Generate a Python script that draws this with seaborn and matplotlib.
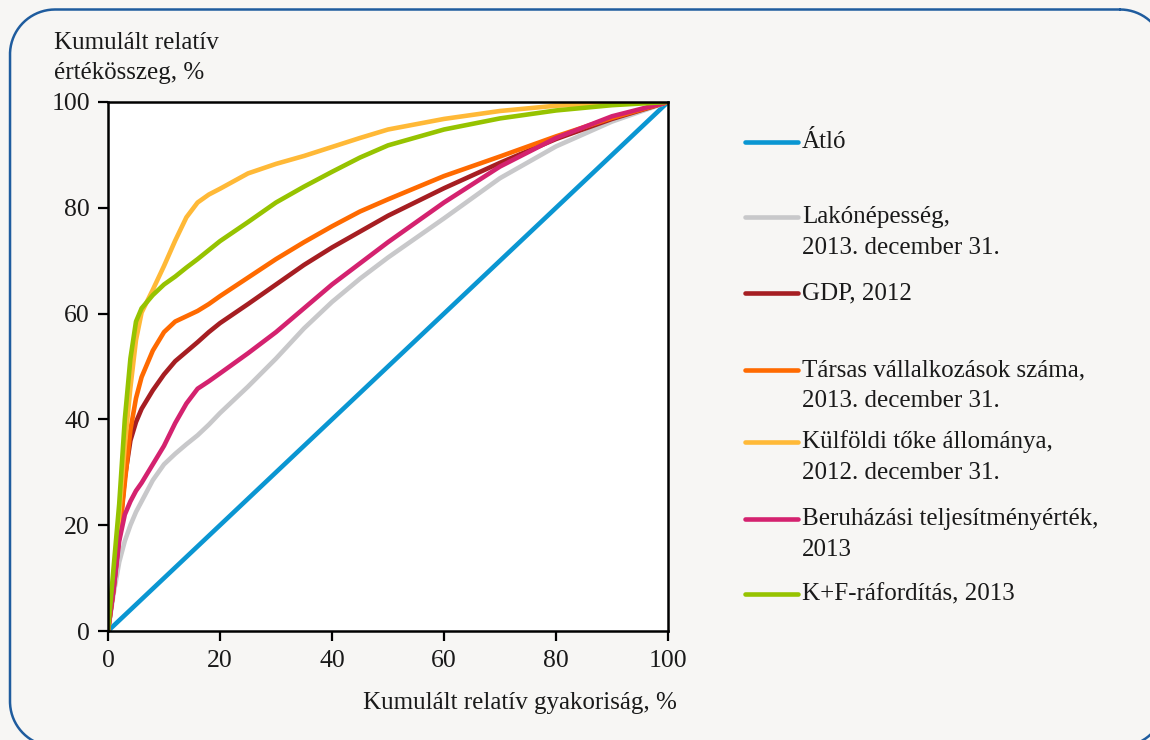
import matplotlib.pyplot as plt
import numpy as np
import pandas as pd
import seaborn as sns
from matplotlib.lines import Line2D

# === Data ===
x_pct = [0, 1, 2, 3, 4, 5, 6, 8, 10, 12, 14, 16, 18, 20, 25, 30, 35, 40, 45, 50, 60, 70, 80, 90, 100]

diag = [0, 1, 2, 3, 4, 5, 6, 8, 10, 12, 14, 16, 18, 20, 25, 30, 35, 40, 45, 50, 60, 70, 80, 90, 100]
lakonepesseg = [0, 7, 13, 17, 20, 22.5, 24.5, 28.5, 31.5, 33.5, 35.3, 37, 39, 41.2, 46.2, 51.5, 57.2, 62.2, 66.6, 70.6, 78, 85.6, 91.6, 96.3, 100]
gdp = [0, 8, 18, 29, 36, 39.5, 42, 45.5, 48.5, 51, 52.8, 54.6, 56.5, 58.2, 61.8, 65.5, 69.2, 72.5, 75.5, 78.5, 83.7, 88.5, 93, 96.8, 100]
tarsas = [0, 8, 18, 28, 38, 44, 48, 53, 56.5, 58.5, 59.5, 60.5, 61.8, 63.3, 66.8, 70.3, 73.5, 76.5, 79.3, 81.6, 86, 89.7, 93.5, 97, 100]
kulfoldi = [0, 10, 22, 35, 46, 55, 60.2, 64.5, 69, 73.8, 78.2, 81, 82.5, 83.6, 86.5, 88.3, 89.8, 91.5, 93.2, 94.8, 96.8, 98.3, 99.3, 99.8, 100]
beruhazas = [0, 8, 17, 22, 24.5, 26.5, 28, 31.5, 35, 39.3, 43, 45.8, 47.2, 48.7, 52.5, 56.5, 61, 65.5, 69.5, 73.5, 81, 87.8, 93.2, 97.3, 100]
kf = [0, 12, 24, 40, 51.5, 58.5, 61, 63.5, 65.5, 67, 68.7, 70.3, 72, 73.7, 77.3, 81, 84, 86.8, 89.5, 91.8, 94.8, 96.9, 98.4, 99.4, 100]

series_names = ["Átló", "Lakónépesség,\n2013. december 31.", "GDP, 2012",
                "Társas vállalkozások száma,\n2013. december 31.",
                "Külföldi tőke állománya,\n2012. december 31.",
                "Beruházási teljesítményérték,\n2013", "K+F-ráfordítás, 2013"]
series_values = [diag, lakonepesseg, gdp, tarsas, kulfoldi, beruhazas, kf]
colors = ["#0a96d2", "#c8c8ca", "#a61e22", "#ff6a00", "#ffb937", "#d4226f", "#96c300"]

# long format table for seaborn
df = pd.concat([
    pd.DataFrame({"x": x_pct, "y": vals, "series": name})
    for name, vals in zip(series_names, series_values)
], ignore_index=True)

# === Style ===
sns.set_theme(style="white")
plt.rcParams['font.family'] = ['Liberation Serif', 'DejaVu Serif']
plt.rcParams['text.color'] = '#1a1a1a'
bg = "#f7f6f4"
fs = 18
W, H = 1150, 740

fig = plt.figure(figsize=(11.5, 7.4), dpi=100, facecolor=bg)

# full-figure helper axes in pixel units, used for the rounded frame
frame_ax = fig.add_axes([0, 0, 1, 1])
frame_ax.set_xlim(0, W)
frame_ax.set_ylim(H, 0)
frame_ax.axis("off")


def rounded_rect(x0, y0, x1, y1, r, n=40):
    # polyline outline (y grows downwards)
    pts = []
    corners = [(x1 - r, y0 + r, -90, 0), (x1 - r, y1 - r, 0, 90),
               (x0 + r, y1 - r, 90, 180), (x0 + r, y0 + r, 180, 270)]
    for cx, cy, a0, a1 in corners:
        t = np.radians(np.linspace(a0, a1, n))
        pts += list(zip(cx + r * np.cos(t), cy + r * np.sin(t)))
    pts.append(pts[0])
    return np.array(pts)


outline = rounded_rect(10, 9.5, 1165, 746.5, 45)
frame_ax.plot(outline[:, 0], outline[:, 1], color="#1f5c9e", linewidth=1.8,
              clip_on=False, solid_joinstyle="round")

ax = fig.add_axes([108 / W, 1 - 631 / H, 560 / W, 529 / H])
ax.set_facecolor("white")

sns.lineplot(data=df, x="x", y="y", hue="series", palette=dict(zip(series_names, colors)),
             hue_order=series_names, linewidth=3.3, legend=False, sort=False, ax=ax)
for ln in ax.get_lines():
    ln.set_solid_capstyle("round")
    ln.set_solid_joinstyle("round")

ax.set_xlim(0, 100)
ax.set_ylim(0, 100)
ax.set_xticks(range(0, 101, 20))
ax.set_yticks(range(0, 101, 20))
ax.tick_params(axis="both", direction="out", length=7, width=1.6, color="black",
               labelsize=18.5, labelcolor="#1a1a1a", bottom=True, left=True)
ax.tick_params(axis="y", pad=6)
ax.tick_params(axis="x", pad=7)
for sp in ax.spines.values():
    sp.set_color("black")
    sp.set_linewidth(1.8)
ax.set_xlabel("")
ax.set_ylabel("")
ax.grid(False)

# axis titles
for i, line in enumerate(["Kumulált relatív", "értékösszeg, %"]):
    fig.text(54 / W, 1 - (43 + 30 * i) / H, line, fontsize=fs, ha="left", va="center")
fig.text(677 / W, 1 - 703 / H, "Kumulált relatív gyakoriság, %", fontsize=fs,
         ha="right", va="center")

# legend drawn by hand (irregular spacing as in the reference)
legend_y = [142, 217, 293, 370, 442, 519, 594]
for name, col, yy in zip(series_names, colors, legend_y):
    fy = 1 - yy / H
    fig.add_artist(Line2D([745 / W, 798 / W], [fy, fy], color=col, linewidth=3.3,
                          solid_capstyle="round", transform=fig.transFigure))
    for i, line in enumerate(name.split("\n")):
        fig.text(802 / W, 1 - (yy + 31 * i) / H, line, fontsize=fs,
                 ha="left", va="center")

fig.savefig("out.png", dpi=100, facecolor=bg)
